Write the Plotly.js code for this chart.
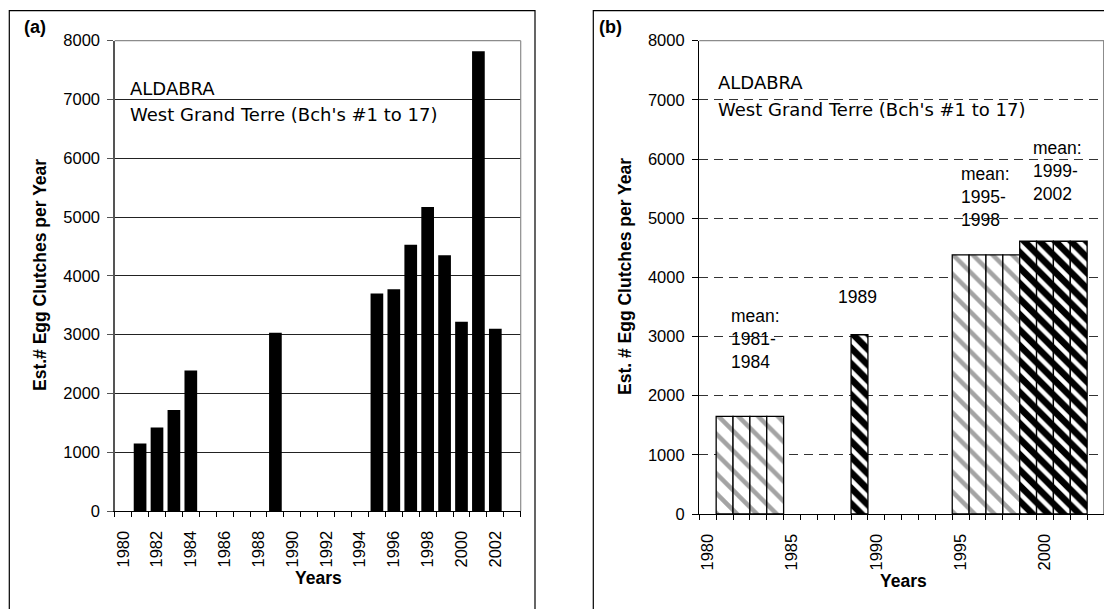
<!DOCTYPE html>
<html>
<head>
<meta charset="utf-8">
<script src="https://cdn.plot.ly/plotly-3.0.1.min.js"></script>
<style>html,body{margin:0;padding:0;background:#fff;}#chart{width:1104px;height:609px;}</style>
</head>
<body>
<div id="chart"></div>
<script>
// ---- Data ----
// Panel (a): annual estimates
const yearsA = [1981, 1982, 1983, 1984, 1989, 1995, 1996, 1997, 1998, 1999, 2000, 2001, 2002];
const clutchesA = [1150, 1420, 1720, 2390, 3030, 3700, 3770, 4530, 5170, 4350, 3220, 7820, 3100];
// Panel (b): period means (grey hatch) and single / recent years (black hatch)
const yearsBGrey = [1981, 1982, 1983, 1984, 1995, 1996, 1997, 1998];
const meansBGrey = [1650, 1650, 1650, 1650, 4380, 4380, 4380, 4380];
const yearsBBlack = [1989, 1999, 2000, 2001, 2002];
const valuesBBlack = [3030, 4610, 4610, 4610, 4610];
// Tick labels
const xTicksA = [1980, 1982, 1984, 1986, 1988, 1990, 1992, 1994, 1996, 1998, 2000, 2002];
const xTicksB = [1980, 1985, 1990, 1995, 2000];
const yTicks = [0, 1000, 2000, 3000, 4000, 5000, 6000, 7000, 8000];

// ---- Helpers ----
const W = 1104, H = 609;
const px = v => v / W;
const py = v => 1 - v / H;
const SANS = 'Liberation Sans, Arial, sans-serif';
const DJ = 'DejaVu Sans, sans-serif';

const traces = [
  {
    type: 'bar', x: yearsA, y: clutchesA, xaxis: 'x', yaxis: 'y',
    width: 0.75, marker: {color: '#000000', line: {width: 0}},
    hoverinfo: 'x+y'
  },
  {
    type: 'bar', x: yearsBGrey, y: meansBGrey, xaxis: 'x2', yaxis: 'y2',
    width: 1,
    marker: {
      color: '#ffffff',
      line: {color: '#000000', width: 1.3},
      pattern: {shape: '\\', fgcolor: '#a3a3a3', bgcolor: '#ffffff', fgopacity: 1, size: 14, solidity: 0.32, fillmode: 'overlay'}
    }
  },
  {
    type: 'bar', x: yearsBBlack, y: valuesBBlack, xaxis: 'x2', yaxis: 'y2',
    width: 1,
    marker: {
      color: '#ffffff',
      line: {color: '#000000', width: 1.3},
      pattern: {shape: '\\', fgcolor: '#000000', bgcolor: '#ffffff', fgopacity: 1, size: 11, solidity: 0.6, fillmode: 'overlay'}
    }
  }
];

const tickFont = {family: SANS, size: 16.5, color: '#000'};

function xAxis(domain, tickvals) {
  return {
    domain: domain, type: 'linear', range: [1979.5, 2003.5],
    tickmode: 'array', tickvals: tickvals, ticktext: tickvals.map(String),
    tickangle: -90, ticks: 'outside', ticklen: 5, tickcolor: 'rgba(0,0,0,0)',
    ticklabelstandoff: 7,
    minor: {tick0: 1979.5, dtick: 1, ticks: 'outside', ticklen: 5, tickwidth: 1, tickcolor: '#000', showgrid: false},
    showgrid: false, zeroline: false, showline: true, linecolor: '#000', linewidth: 1.2,
    tickfont: tickFont, automargin: false, fixedrange: true
  };
}
function yAxis(domain, anchor, dashed, lineColor) {
  return {
    domain: domain, anchor: anchor, range: [0, 8000],
    tickmode: 'array', tickvals: yTicks, ticktext: yTicks.map(String),
    ticks: 'outside', ticklen: 6, tickwidth: 1, tickcolor: lineColor,
    ticklabelstandoff: 4,
    showgrid: true, gridcolor: dashed ? '#333' : '#222', gridwidth: 1,
    griddash: dashed ? '9px,6px' : 'solid',
    zeroline: false, showline: true, linecolor: lineColor, linewidth: 1.4,
    tickfont: tickFont, automargin: false, fixedrange: true
  };
}

const layout = {
  width: W, height: H,
  margin: {l: 0, r: 0, t: 0, b: 0, pad: 0},
  paper_bgcolor: '#ffffff', plot_bgcolor: '#ffffff',
  showlegend: false, barmode: 'overlay',
  xaxis: Object.assign(xAxis([px(114.7), px(520.7)], xTicksA), {anchor: 'y'}),
  yaxis: yAxis([1 - 511 / H, 1 - 40.7 / H], 'x', false, '#555'),
  xaxis2: Object.assign(xAxis([px(699.3), 1], xTicksB), {anchor: 'y2'}),
  yaxis2: yAxis([1 - 514 / H, 1 - 40.7 / H], 'x2', true, '#000'),
  shapes: [
    // outer frames
    {type: 'rect', xref: 'paper', yref: 'paper', x0: px(9.3), x1: px(535), y0: -0.05, y1: py(10.7),
     line: {color: '#000', width: 1.2}, layer: 'above'},
    {type: 'rect', xref: 'paper', yref: 'paper', x0: px(593.3), x1: 1.05, y0: -0.05, y1: py(10.7),
     line: {color: '#000', width: 1.2}, layer: 'above'},
    // plot-area borders (top / right)
    {type: 'line', xref: 'x domain', yref: 'y domain', x0: 0, x1: 1, y0: 1, y1: 1, line: {color: '#8c8c8c', width: 1.2}, layer: 'above'},
    {type: 'line', xref: 'x domain', yref: 'y domain', x0: 1, x1: 1, y0: 0, y1: 1, line: {color: '#8c8c8c', width: 1.2}, layer: 'above'},
    {type: 'line', xref: 'x2 domain', yref: 'y2 domain', x0: 0, x1: 1, y0: 1, y1: 1, line: {color: '#8c8c8c', width: 1.2}, layer: 'above'},
    {type: 'line', xref: 'x2 domain', yref: 'y2 domain', x0: 0.999, x1: 0.999, y0: 0, y1: 1, line: {color: '#8c8c8c', width: 1.2}, layer: 'above'}
  ],
  annotations: [
    {text: '<b>(a)</b>', x: px(35.3), y: py(27), xref: 'paper', yref: 'paper', showarrow: false,
     xanchor: 'center', yanchor: 'middle', font: {family: SANS, size: 18, color: '#000'}},
    {text: '<b>(b)</b>', x: px(610), y: py(27.3), xref: 'paper', yref: 'paper', showarrow: false,
     xanchor: 'center', yanchor: 'middle', font: {family: SANS, size: 18, color: '#000'}},
    // station captions
    {text: 'ALDABRA', x: px(128), y: py(88), xref: 'paper', yref: 'paper', showarrow: false,
     xanchor: 'left', yanchor: 'middle', font: {family: DJ, size: 18, color: '#000'}},
    {text: "West Grand Terre (Bch's #1 to 17)", x: px(128), y: py(114), xref: 'paper', yref: 'paper', showarrow: false,
     xanchor: 'left', yanchor: 'middle', font: {family: DJ, size: 18, color: '#000'}},
    {text: 'ALDABRA', x: px(715.5), y: py(83), xref: 'paper', yref: 'paper', showarrow: false,
     xanchor: 'left', yanchor: 'middle', font: {family: DJ, size: 18, color: '#000'}},
    {text: "West Grand Terre (Bch's #1 to 17)", x: px(715.5), y: py(109), xref: 'paper', yref: 'paper', showarrow: false,
     xanchor: 'left', yanchor: 'middle', font: {family: DJ, size: 18, color: '#000'}},
    // period labels in (b)
    {text: 'mean:<br>1981-<br>1984', x: px(729), y: py(339), xref: 'paper', yref: 'paper', showarrow: false,
     xanchor: 'left', yanchor: 'middle', align: 'left', font: {family: SANS, size: 17.5, color: '#000'}},
    {text: '1989', x: px(857), y: py(297), xref: 'paper', yref: 'paper', showarrow: false,
     xanchor: 'center', yanchor: 'middle', font: {family: SANS, size: 17.5, color: '#000'}},
    {text: 'mean:<br>1995-<br>1998', x: px(958.5), y: py(197), xref: 'paper', yref: 'paper', showarrow: false,
     xanchor: 'left', yanchor: 'middle', align: 'left', font: {family: SANS, size: 17.5, color: '#000'}},
    {text: 'mean:<br>1999-<br>2002', x: px(1031), y: py(171), xref: 'paper', yref: 'paper', showarrow: false,
     xanchor: 'left', yanchor: 'middle', align: 'left', font: {family: SANS, size: 17.5, color: '#000'}},
    // axis titles
    {text: '<b>Est.# Egg Clutches per Year</b>', x: px(40), y: py(275), xref: 'paper', yref: 'paper', showarrow: false,
     textangle: -90, xanchor: 'center', yanchor: 'middle', font: {family: SANS, size: 17.5, color: '#000'}},
    {text: '<b>Years</b>', x: px(318.5), y: py(578), xref: 'paper', yref: 'paper', showarrow: false,
     xanchor: 'center', yanchor: 'middle', font: {family: SANS, size: 17.5, color: '#000'}},
    {text: '<b>Est. # Egg Clutches per Year</b>', x: px(625), y: py(277), xref: 'paper', yref: 'paper', showarrow: false,
     textangle: -90, xanchor: 'center', yanchor: 'middle', font: {family: SANS, size: 17.5, color: '#000'}},
    {text: '<b>Years</b>', x: px(903), y: py(581), xref: 'paper', yref: 'paper', showarrow: false,
     xanchor: 'center', yanchor: 'middle', font: {family: SANS, size: 17.5, color: '#000'}}
  ]
};

Plotly.newPlot('chart', traces, layout, {displayModeBar: false, staticPlot: true});
</script>
</body>
</html>
